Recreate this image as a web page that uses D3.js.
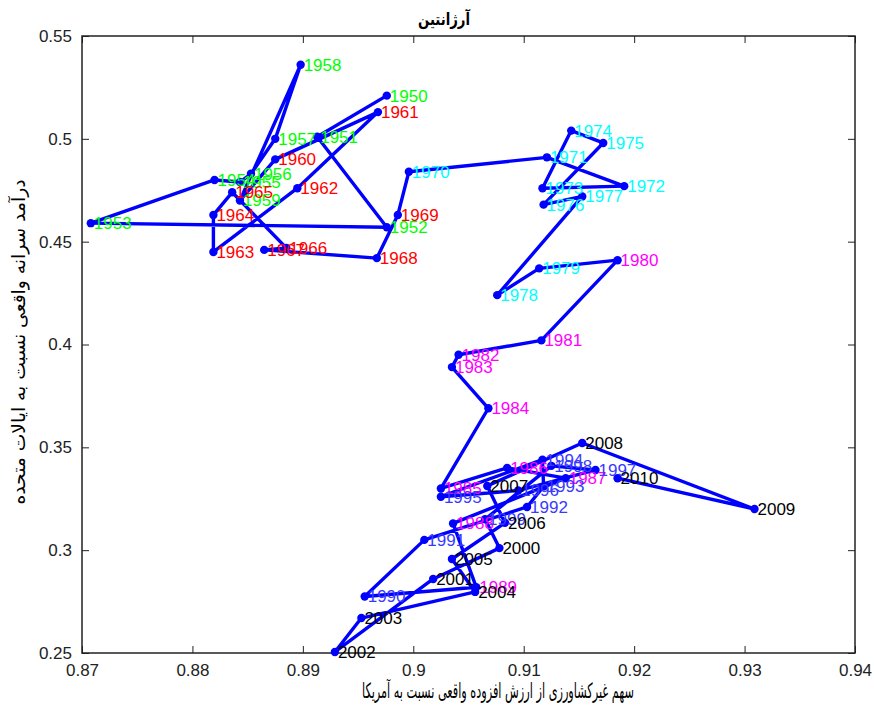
<!DOCTYPE html>
<meta charset="utf-8">
<style>
body { margin: 0; background: #fff; }
svg text { font-family: Arial, "Liberation Sans", sans-serif; }
.fa { font-family: "DejaVu Sans Condensed", "DejaVu Sans", sans-serif; }
</style>
<svg class="chart" width="874" height="711"></svg>
<script src="https://d3js.org/d3.v7.min.js"></script>
<script>

// share of non-agriculture in real value added vs real income per capita, relative to the US
var years = d3.range(1950, 2011);
var xVals = [
  0.8976, 0.8913, 0.8976, 0.8708, 0.8820, 0.8843, 0.8853, 0.8875, 0.8898, 0.8843, // 1950s
  0.8875, 0.8968, 0.8895, 0.8819, 0.8819, 0.8836, 0.8885, 0.8865, 0.8967, 0.8986, // 1960s
  0.8996, 0.9121, 0.9191, 0.9117, 0.9143, 0.9172, 0.9118, 0.9153, 0.9076, 0.9114, // 1970s
  0.9185, 0.9116, 0.9041, 0.9035, 0.9068, 0.9025, 0.9085, 0.9138, 0.9036, 0.9057, // 1980s
  0.8956, 0.9010, 0.9103, 0.9118, 0.9117, 0.9025, 0.9095, 0.9165, 0.9125, 0.9065, // 1990s
  0.9078, 0.9018, 0.8929, 0.8953, 0.9056, 0.9035, 0.9083, 0.9067, 0.9153, 0.9309, // 2000s
  0.9185
];
var yVals = [
  0.521, 0.501, 0.457, 0.459, 0.480, 0.479, 0.483, 0.500, 0.536, 0.470,
  0.490, 0.513, 0.476, 0.445, 0.463, 0.474, 0.447, 0.446, 0.442, 0.463,
  0.484, 0.491, 0.477, 0.476, 0.504, 0.498, 0.468, 0.472, 0.424, 0.437,
  0.441, 0.402, 0.395, 0.389, 0.369, 0.330, 0.340, 0.335, 0.313, 0.282,
  0.2775, 0.305, 0.321, 0.331, 0.344, 0.326, 0.329, 0.339, 0.341, 0.315,
  0.301, 0.286, 0.2505, 0.267, 0.2797, 0.2957, 0.3133, 0.3312, 0.3521, 0.320,
  0.335
];
var decadeColors = ["#00ff00", "#ff0000", "#00ffff", "#ff00ff", "#3a3aff", "#000000", "#000000"];
var xTicks = [0.87, 0.88, 0.89, 0.9, 0.91, 0.92, 0.93, 0.94];
var yTicks = [0.25, 0.3, 0.35, 0.4, 0.45, 0.5, 0.55];

var title = "آرژانتین";
var xTitle = "سهم غیرکشاورزی از ارزش افزوده واقعی نسبت به آمریکا";
var yTitle = "درآمد سرانه واقعی نسبت به ایالات متحده";

var margin = {top: 36, right: 19, bottom: 58, left: 82};
var svg = d3.select("svg.chart");
var width = +svg.attr("width") - margin.left - margin.right;
var height = +svg.attr("height") - margin.top - margin.bottom;

var data = years.map(function(y, i) { return {year: y, x: xVals[i], y: yVals[i]}; });

var x = d3.scaleLinear().domain([0.87, 0.94]).range([0, width]);
var y = d3.scaleLinear().domain([0.25, 0.55]).range([height, 0]);

var g = svg.append("g").attr("transform", `translate(${margin.left},${margin.top})`);

var fmt = function(d) { return d3.format("")(+d.toFixed(2)); };

function styleAxis(sel, showLabels) {
  sel.select(".domain").remove();
  sel.selectAll("line").attr("stroke", "#222");
  sel.selectAll("text").style("font-size", "17px").attr("fill", "#222");
  if (!showLabels) sel.selectAll("text").remove();
}

g.append("g").attr("transform", `translate(0,${height})`)
  .call(d3.axisBottom(x).tickValues(xTicks).tickSize(-7).tickPadding(11).tickFormat(fmt))
  .call(styleAxis, true);
g.append("g")
  .call(d3.axisTop(x).tickValues(xTicks).tickSize(-7).tickFormat(""))
  .call(styleAxis, false);
g.append("g")
  .call(d3.axisLeft(y).tickValues(yTicks).tickSize(-7).tickPadding(10).tickFormat(fmt))
  .call(styleAxis, true);
g.append("g").attr("transform", `translate(${width},0)`)
  .call(d3.axisRight(y).tickValues(yTicks).tickSize(-7).tickFormat(""))
  .call(styleAxis, false);

g.append("rect")
  .attr("width", width).attr("height", height)
  .attr("fill", "none").attr("stroke", "#222").attr("stroke-width", 1.5);

var line = d3.line().x(function(d) { return x(d.x); }).y(function(d) { return y(d.y); });

g.append("path").datum(data)
  .attr("d", line)
  .attr("fill", "none")
  .attr("stroke", "#0000ff")
  .attr("stroke-width", 3.4)
  .attr("stroke-linejoin", "round");

g.selectAll("circle").data(data).enter()
  .append("circle")
    .attr("cx", function(d) { return x(d.x); })
    .attr("cy", function(d) { return y(d.y); })
    .attr("r", 4.2)
    .attr("fill", "#0000ff");

g.selectAll("text.year").data(data).enter()
  .append("text")
    .attr("class", "year")
    .attr("x", function(d) { return x(d.x) + 3; })
    .attr("y", function(d) { return y(d.y); })
    .attr("dy", "0.35em")
    .style("font-size", "17px")
    .attr("fill", function(d) { return decadeColors[Math.floor((d.year - 1950) / 10)]; })
    .text(function(d) { return d.year; });

svg.append("text").attr("class", "fa")
  .attr("x", 444).attr("y", 25)
  .attr("text-anchor", "middle")
  .style("font-size", "17px").style("font-weight", "bold")
  .attr("textLength", 52).attr("lengthAdjust", "spacingAndGlyphs")
  .text(title);

svg.append("text").attr("class", "fa")
  .attr("x", 498).attr("y", 698)
  .attr("text-anchor", "middle")
  .style("font-size", "21px")
  .attr("textLength", 272).attr("lengthAdjust", "spacingAndGlyphs")
  .text(xTitle);

svg.append("text").attr("class", "fa")
  .attr("transform", `translate(25,342) rotate(-90)`)
  .attr("text-anchor", "middle")
  .style("font-size", "18px")
  .attr("textLength", 325).attr("lengthAdjust", "spacingAndGlyphs")
  .text(yTitle);

</script>
